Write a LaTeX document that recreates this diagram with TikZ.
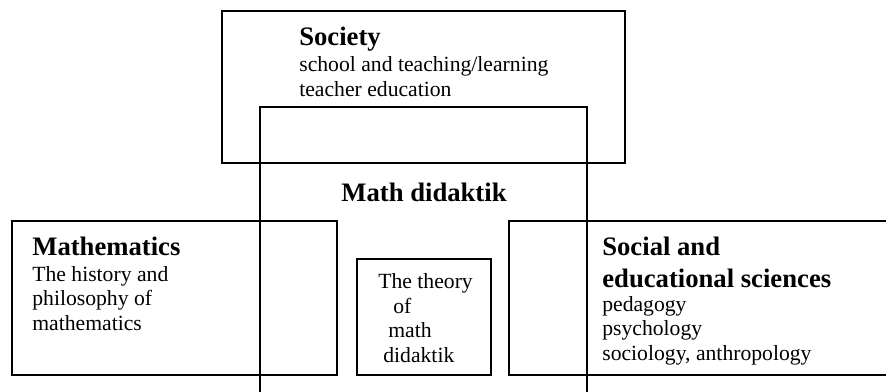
\documentclass[tikz,border=0pt]{standalone}
\usepackage{fontspec}
\setmainfont{Liberation Serif}

\tikzset{
  box/.style={draw, line width=1pt, inner sep=0pt},
  head/.style={font=\fontsize{16}{19.2}\selectfont\bfseries, inner sep=0pt, anchor=base west, align=left},
  body/.style={font=\fontsize{13}{14.7}\selectfont, inner sep=0pt, anchor=base west, align=left},
}

\begin{document}
\begin{tikzpicture}[x=0.6pt, y=-0.6pt]
        \clip (0,0) rectangle (886,391);

        % the boxes
        \node (S) [box, minimum width=241.8pt, minimum height=91.2pt] at (423.5,87) {};
        \node (D) [box, minimum width=196.2pt, minimum height=187.8pt] at (423.5,263.5) {};
        \node (M) [box, minimum width=195pt, minimum height=92.4pt] at (174.5,298) {};
        \node (T) [box, minimum width=80.4pt, minimum height=69.6pt] at (424,317) {};
        \node (E) [box, minimum width=234.6pt, minimum height=92.4pt] at (704.5,298) {};

        % the texts (multi-line ones sit on their last line)
        \node (Shead) [head] at (299,45) {Society};
        \node (Sbody) [body] at (299,96) {school and teaching/learning\\teacher education};

        \node (Dhead) [head, anchor=base] at (424,201) {Math didaktik};

        \node (Mhead) [head] at (32,255) {Mathematics};
        \node (Mbody) [body] at (32,330) {The history and\\philosophy of\\mathematics};

        \node (Tbody) [body] at (378,362) {The theory\\\hspace{9pt}of\\\hspace{6pt}math\\\hspace{3pt}didaktik};

        \node (Ehead) [head] at (602,287) {Social and\\educational sciences};
        \node (Ebody) [body] at (602,360) {pedagogy\\psychology\\sociology, anthropology};
    \end{tikzpicture}
\end{document}
